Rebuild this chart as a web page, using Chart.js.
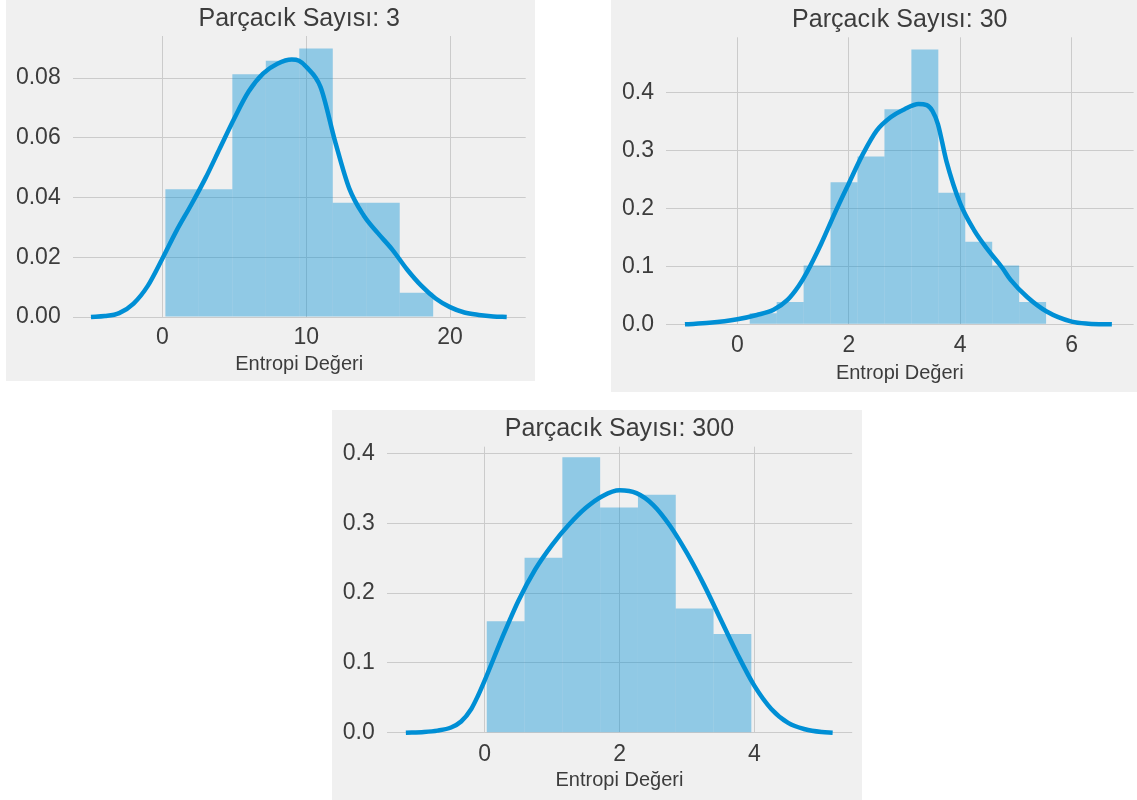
<!DOCTYPE html>
<html>
<head>
<meta charset="utf-8">
<script src="https://cdn.jsdelivr.net/npm/chart.js@4.4.1/dist/chart.umd.min.js"></script>
<style>
  body { margin: 0; background: #ffffff; }
  .panel { position: absolute; background: #f0f0f0; }
  canvas { display: block; }
</style>
</head>
<body>
<div class="panel" id="p1"><canvas id="c1"></canvas></div>
<div class="panel" id="p2"><canvas id="c2"></canvas></div>
<div class="panel" id="p3"><canvas id="c3"></canvas></div>

<script>
// TEXT
const titles = ["Parçacık Sayısı: 3", "Parçacık Sayısı: 30", "Parçacık Sayısı: 300"];
const xAxisLabel = "Entropi Değeri";

// PARÇACIK 3 - histogram (bin centers, density) + kde
const bins3 = [1.377, 3.704, 6.031, 8.358, 10.685, 13.012, 15.339, 17.666];
const dens3 = [0.0428, 0.0428, 0.0813, 0.0858, 0.0899, 0.0383, 0.0383, 0.0081];
const kdeX3 = [-4.96, -4, -3, -2, -1, 0, 1, 2, 3, 4, 5, 6, 7, 8, 9, 9.5, 10, 11, 12, 13, 14, 15, 16, 17, 18, 19, 20, 21, 22, 23, 23.94];
const kdeY3 = [0, 0.0003, 0.0013, 0.0045, 0.0105, 0.0195, 0.029, 0.0375, 0.0465, 0.0565, 0.0665, 0.0755, 0.0815, 0.0848, 0.0862, 0.0858, 0.0838, 0.077, 0.059, 0.043, 0.034, 0.028, 0.0225, 0.016, 0.0105, 0.0062, 0.0033, 0.0015, 0.0007, 0.0002, 0];
const xTicks3 = [0, 10, 20];
const yTicks3 = [0, 0.02, 0.04, 0.06, 0.08];

// PARÇACIK 30
const bins30 = [0.4642, 0.9476, 1.4310, 1.9144, 2.3978, 2.8812, 3.3646, 3.8480, 4.3314, 4.8148, 5.2982];
const dens30 = [0.019, 0.0386, 0.1013, 0.245, 0.2895, 0.371, 0.474, 0.2268, 0.1422, 0.1013, 0.0386];
const kdeX30 = [-0.94, -0.5, 0, 0.35, 0.65, 0.9, 1.1, 1.25, 1.5, 1.75, 2.0, 2.25, 2.5, 2.75, 3.0, 3.25, 3.4, 3.5, 3.6, 3.75, 4.0, 4.25, 4.5, 4.75, 4.9, 5.2, 5.55, 6.0, 6.3, 6.72];
const kdeY30 = [0, 0.0025, 0.0086, 0.016, 0.025, 0.042, 0.066, 0.09, 0.138, 0.192, 0.243, 0.293, 0.334, 0.357, 0.371, 0.380, 0.378, 0.368, 0.345, 0.282, 0.208, 0.162, 0.128, 0.098, 0.077, 0.047, 0.022, 0.0045, 0.001, 0];
const xTicks30 = [0, 2, 4, 6];
const yTicks30 = [0, 0.1, 0.2, 0.3, 0.4];

// PARÇACIK 300
const bins300 = [0.3103, 0.8709, 1.4315, 1.9921, 2.5527, 3.1133, 3.6739];
const dens300 = [0.1595, 0.2505, 0.3943, 0.3224, 0.3406, 0.1777, 0.1413];
const kdeX300 = [-1.17, -0.9, -0.7, -0.5, -0.35, -0.2, -0.1, 0, 0.25, 0.5, 0.75, 1.0, 1.25, 1.5, 1.75, 2.0, 2.25, 2.5, 2.75, 3.0, 3.25, 3.5, 3.75, 4.0, 4.25, 4.5, 4.75, 5.0, 5.16];
const kdeY300 = [0, 0.001, 0.003, 0.0075, 0.016, 0.034, 0.053, 0.075, 0.134, 0.189, 0.234, 0.269, 0.298, 0.322, 0.339, 0.347, 0.343, 0.326, 0.296, 0.257, 0.212, 0.162, 0.112, 0.067, 0.034, 0.014, 0.005, 0.001, 0];
const xTicks300 = [0, 2, 4];
const yTicks300 = [0, 0.1, 0.2, 0.3, 0.4];

const LINE = "#008fd5";
const BAR = "rgba(0, 143, 213, 0.4)";
const GRID = "#cbcbcb";
const TEXT = "#3c3c3c";

Chart.defaults.font.family = "'Liberation Sans', Arial, sans-serif";
Chart.defaults.color = TEXT;

// panel boxes (page pixels) and axis ranges
const panels = [
  { id: "1", box: [6, 0, 529, 381], yW: 66.7, padR: 9.3, tTop: 4.5, tBot: 1.5, xH: 64, xPad: 7, lblPad: 5,
    xMin: -6.23, xMax: 25.26, yMax: 0.0941, dec: 2,
    title: titles[0], bins: bins3, dens: dens3, kx: kdeX3, ky: kdeY3, xt: xTicks3, yt: yTicks3 },
  { id: "2", box: [611, 0, 526, 392], yW: 55, padR: 3.4, tTop: 5, tBot: 2.3, xH: 67.7, xPad: 8, lblPad: 6.7,
    xMin: -1.28, xMax: 7.11, yMax: 0.495, dec: 1,
    title: titles[1], bins: bins30, dens: dens30, kx: kdeX30, ky: kdeY30, xt: xTicks30, yt: yTicks30 },
  { id: "3", box: [332, 410, 530, 390], yW: 54.7, padR: 9.8, tTop: 3.7, tBot: 3, xH: 67.3, xPad: 8, lblPad: 7.3,
    xMin: -1.454, xMax: 5.45, yMax: 0.4095, dec: 1,
    title: titles[2], bins: bins300, dens: dens300, kx: kdeX300, ky: kdeY300, xt: xTicks300, yt: yTicks300 }
];

function drawPanel(p) {
  const div = document.getElementById("p" + p.id);
  div.style.left = p.box[0] + "px";
  div.style.top = p.box[1] + "px";
  div.style.width = p.box[2] + "px";
  div.style.height = p.box[3] + "px";
  const cv = document.getElementById("c" + p.id);
  cv.width = p.box[2];
  cv.height = p.box[3];

  new Chart(cv, {
    type: "bar",
    data: {
      datasets: [
        {
          type: "line",
          order: 0,
          data: p.kx.map((x, i) => ({ x: x, y: p.ky[i] })),
          borderColor: LINE,
          borderWidth: 4.5,
          pointRadius: 0,
          fill: false,
          cubicInterpolationMode: "monotone",
          clip: false
        },
        {
          type: "bar",
          order: 1,
          data: p.bins.map((x, i) => ({ x: x, y: p.dens[i] })),
          backgroundColor: BAR,
          borderWidth: 0,
          inflateAmount: 0,
          barPercentage: 1,
          categoryPercentage: 1
        }
      ]
    },
    options: {
      responsive: false,
      animation: false,
      devicePixelRatio: 1,
      layout: { padding: { left: 0, right: p.padR, top: 0, bottom: 0 } },
      plugins: {
        legend: { display: false },
        tooltip: { enabled: false },
        title: {
          display: true,
          text: p.title,
          fullSize: false,
          color: TEXT,
          font: { size: 25, weight: "normal" },
          padding: { top: p.tTop, bottom: p.tBot }
        }
      },
      scales: {
        x: {
          type: "linear",
          min: p.xMin,
          max: p.xMax,
          offset: false,
          grid: { color: GRID, lineWidth: 1, offset: false, drawTicks: false },
          border: { display: false },
          ticks: { font: { size: 23 }, color: TEXT, padding: p.xPad, callback: v => String(v) },
          title: { display: true, text: xAxisLabel, color: TEXT, font: { size: 20 }, padding: p.lblPad },
          afterBuildTicks: axis => { axis.ticks = p.xt.map(v => ({ value: v })); },
          afterFit: axis => { axis.height = p.xH; }
        },
        y: {
          min: 0,
          max: p.yMax,
          grid: { color: GRID, lineWidth: 1, drawTicks: false },
          border: { display: false },
          ticks: { font: { size: 23 }, color: TEXT, padding: 12, callback: v => v.toFixed(p.dec) },
          afterBuildTicks: axis => { axis.ticks = p.yt.map(v => ({ value: v })); },
          afterFit: axis => { axis.width = p.yW; }
        }
      }
    }
  });
}

// DRAW ALL
panels.forEach(drawPanel);
</script>
</body>
</html>
